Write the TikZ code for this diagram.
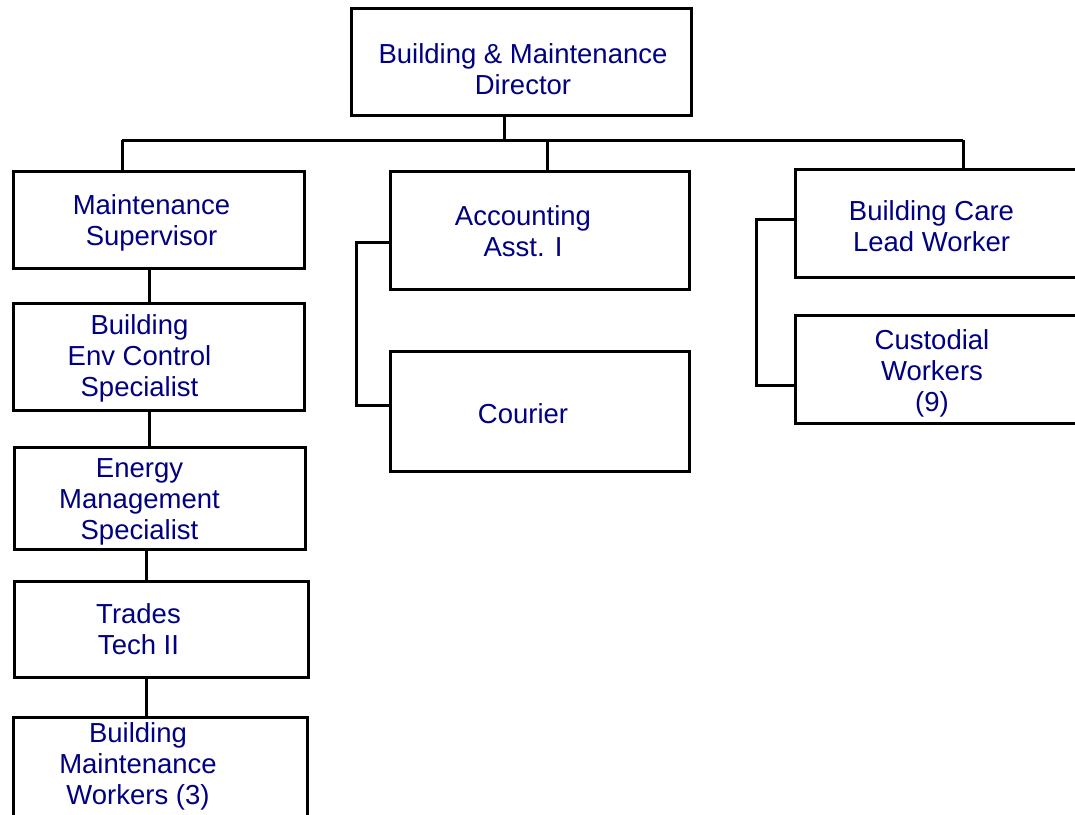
\documentclass[tikz,border=0pt]{standalone}
\usepackage{fontspec}
\setmainfont{Liberation Sans}
\definecolor{labelblue}{RGB}{0,0,128}
\begin{document}
\begin{tikzpicture}[x=1pt,y=-1pt,
  box/.style={draw=black, line width=3pt, rectangle, inner sep=0pt, fill=white},
  lbl/.style={text=labelblue, align=center, inner sep=0pt, font=\fontsize{27.5}{31}\selectfont},
  link/.style={draw=black, line width=3pt}]
\useasboundingbox (0,0) rectangle (1075,814);
\clip (0,0) rectangle (1075,814);

% boxes
\node[box, minimum width=340pt, minimum height=107pt] (dir)  at (521,61.5) {};
\node[box, minimum width=291pt, minimum height=97pt]  (ms)   at (158.5,219.5) {};
\node[box, minimum width=299pt, minimum height=118pt] (acc)  at (539.5,230) {};
\node[box, minimum width=299pt, minimum height=120pt] (cour) at (539.5,411) {};
\node[box, minimum width=320pt, minimum height=108pt] (bc)   at (955,223) {};
\node[box, minimum width=320pt, minimum height=108pt] (cust) at (955,369) {};
\node[box, minimum width=291pt, minimum height=107pt] (bec)  at (158.5,356.5) {};
\node[box, minimum width=291pt, minimum height=102pt] (em)   at (159.5,498) {};
\node[box, minimum width=294pt, minimum height=96pt]  (tt)   at (161,629) {};
\node[box, minimum width=294pt, minimum height=113pt] (bmw)  at (160,773.5) {};

% labels
\node[lbl] (dirT)  at (523,69)   {Building \& Maintenance\\Director};
\node[lbl] (msT)   at (151.5,223) {Maintenance\\Supervisor};
\node[lbl] (accT)  at (523,231)  {Accounting\\Asst. I};
\node[lbl] (courT) at (523,414)  {Courier};
\node[lbl] (bcT)   at (931.5,226) {Building Care\\Lead Worker};
\node[lbl] (custT) at (932,373)  {Custodial\\Workers\\(9)};
\node[lbl] (becT)  at (139.5,358) {Building\\Env Control\\Specialist};
\node[lbl] (emT)   at (139.5,502) {Energy\\Management\\Specialist};
\node[lbl] (ttT)   at (138.5,629) {Trades\\Tech II};
\node[lbl] (bmwT)  at (138,766)  {Building\\Maintenance\\Workers (3)};

% junction points
\coordinate (busL) at (122,140);
\coordinate (busR) at (963,140);
\coordinate (j0) at (504,140);
\coordinate (j1) at (547,140);
\coordinate (c1) at (149,0);
\coordinate (c2) at (146,0);
\coordinate (ka) at (356,242);
\coordinate (kb) at (356,405);
\coordinate (kc) at (756,219);
\coordinate (kd) at (756,385);

% connectors
\draw[link] (busL) -- (busR);
\draw[link] (dir.south -| j0) -- (j0);
\draw[link] (busL) -- (ms.north -| busL);
\draw[link] (j1) -- (acc.north -| j1);
\draw[link] (busR) -- (bc.north -| busR);
\draw[link] (ms.south -| c1) -- (bec.north -| c1);
\draw[link] (bec.south -| c1) -- (em.north -| c1);
\draw[link] (em.south -| c2) -- (tt.north -| c2);
\draw[link] (tt.south -| c2) -- (bmw.north -| c2);
\draw[link] (acc.west |- ka) -- (ka) -- (kb) -- (cour.west |- kb);
\draw[link] (bc.west |- kc) -- (kc) -- (kd) -- (cust.west |- kd);
\end{tikzpicture}
\end{document}
